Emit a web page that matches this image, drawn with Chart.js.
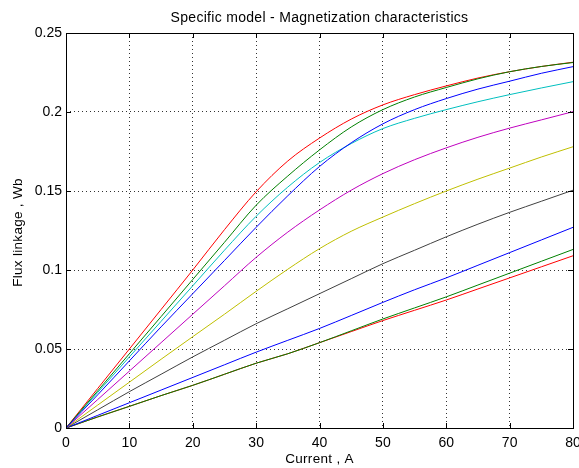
<!DOCTYPE html>
<html lang="en">
<head>
    <meta charset="UTF-8">
    <title>Specific model - Magnetization characteristics</title>
    <script src="https://cdn.jsdelivr.net/npm/chart.js"></script>
    <style>
        body {
            margin: 0;
            background-color: #ffffff;
        }
        .chart-box {
            width: 579px;
            height: 468px;
        }
    </style>
</head>
<body>
    <div class="chart-box">
        <canvas id="fluxChart"></canvas>
    </div>

    <script>
        // current, A
        const current = [0, 5, 10, 15, 20, 25, 30, 35, 40, 45, 50, 55, 60, 65, 70, 75, 80];

        // flux linkage, Wb (one curve per rotor position, matlab colour order)
        const curveBlue1 = [0, 0.021, 0.0425, 0.064, 0.085, 0.106, 0.127, 0.147, 0.1655, 0.1805, 0.1925, 0.2015, 0.2085, 0.2145, 0.2195, 0.2245, 0.2287];
        const curveGreen1 = [0, 0.0235, 0.047, 0.0705, 0.094, 0.1175, 0.141, 0.1595, 0.176, 0.1905, 0.2015, 0.2095, 0.2155, 0.221, 0.2255, 0.2288, 0.2313];
        const curveRed1 = [0, 0.025, 0.050, 0.075, 0.100, 0.1255, 0.1495, 0.169, 0.1835, 0.1955, 0.2045, 0.211, 0.2165, 0.2215, 0.2255, 0.2288, 0.2315];
        const curveCyan = [0, 0.0225, 0.045, 0.0675, 0.090, 0.1125, 0.134, 0.1525, 0.168, 0.180, 0.1895, 0.196, 0.2015, 0.2065, 0.211, 0.2152, 0.2192];
        const curveMagenta = [0, 0.018, 0.036, 0.054, 0.072, 0.090, 0.108, 0.124, 0.138, 0.1505, 0.161, 0.1698, 0.1773, 0.184, 0.1898, 0.195, 0.2002];
        const curveYellow = [0, 0.0145, 0.029, 0.0435, 0.0578, 0.072, 0.0865, 0.1005, 0.1135, 0.1245, 0.1335, 0.142, 0.150, 0.1575, 0.1645, 0.1715, 0.178];
        const curveBlack = [0, 0.0115, 0.023, 0.034, 0.045, 0.0555, 0.066, 0.0755, 0.085, 0.0945, 0.104, 0.1125, 0.121, 0.129, 0.1365, 0.1435, 0.1505];
        const curveBlue2 = [0, 0.008, 0.016, 0.024, 0.032, 0.040, 0.048, 0.0555, 0.063, 0.0712, 0.0795, 0.0875, 0.095, 0.103, 0.111, 0.119, 0.127];
        const curveGreen2 = [0, 0.007, 0.0137, 0.0205, 0.027, 0.034, 0.041, 0.047, 0.054, 0.0615, 0.069, 0.076, 0.083, 0.0905, 0.098, 0.1055, 0.113];
        const curveRed2 = [0, 0.007, 0.0137, 0.0205, 0.027, 0.034, 0.041, 0.047, 0.054, 0.061, 0.068, 0.0745, 0.081, 0.088, 0.095, 0.102, 0.109];

        const xTicks = [0, 10, 20, 30, 40, 50, 60, 70, 80];
        const yTicks = [0, 0.05, 0.1, 0.15, 0.2, 0.25];
        const yTickLabels = ['0', '0.05', '0.1', '0.15', '0.2', '0.25'];

        const curves = [curveBlue1, curveGreen1, curveRed1, curveCyan, curveMagenta, curveYellow, curveBlack, curveBlue2, curveGreen2, curveRed2];
        const colors = ['#0000ff', '#008000', '#ff0000', '#00bfbf', '#bf00bf', '#bfbf00', '#404040', '#0000ff', '#008000', '#ff0000'];

        const fontFamily = "'Liberation Sans', Arial, sans-serif";

        // box round the axes, inward tick marks, title and axis labels (matlab look)
        const matlabAxes = {
            id: 'matlabAxes',
            afterDraw(chart) {
                const { ctx, chartArea: a, scales } = chart;
                const len = 5;
                ctx.save();
                ctx.strokeStyle = '#000';
                ctx.lineWidth = 1;
                ctx.beginPath();
                xTicks.forEach(v => {
                    const x = Math.round(scales.x.getPixelForValue(v)) + 0.5;
                    ctx.moveTo(x, a.bottom); ctx.lineTo(x, a.bottom - len);
                    ctx.moveTo(x, a.top); ctx.lineTo(x, a.top + len);
                });
                yTicks.forEach(v => {
                    const y = Math.round(scales.y.getPixelForValue(v)) + 0.5;
                    ctx.moveTo(a.left, y); ctx.lineTo(a.left + len, y);
                    ctx.moveTo(a.right, y); ctx.lineTo(a.right - len, y);
                });
                ctx.stroke();
                ctx.strokeRect(Math.round(a.left) + 0.5, Math.round(a.top) + 0.5,
                    Math.round(a.right - a.left), Math.round(a.bottom - a.top));

                ctx.fillStyle = '#000';
                ctx.textAlign = 'center';
                ctx.textBaseline = 'middle';
                ctx.font = '14px ' + fontFamily;
                ctx.letterSpacing = '0.3px';
                ctx.fillText('Specific model - Magnetization characteristics', (a.left + a.right) / 2, 18);

                ctx.font = '13.5px ' + fontFamily;
                ctx.fillText('Current , A', (a.left + a.right) / 2, 459);

                ctx.translate(18, (a.top + a.bottom) / 2 + 2);
                ctx.rotate(-Math.PI / 2);
                ctx.fillText('Flux linkage , Wb', 0, 0);
                ctx.restore();
            }
        };

        const ctx = document.getElementById('fluxChart').getContext('2d');
        new Chart(ctx, {
            type: 'line',
            data: {
                datasets: curves.map((c, i) => ({
                    data: current.map((x, j) => ({ x: x, y: c[j] })),
                    borderColor: colors[i],
                    borderWidth: 1,
                    pointRadius: 0,
                    cubicInterpolationMode: 'monotone',
                    fill: false
                }))
            },
            options: {
                responsive: true,
                maintainAspectRatio: false,
                animation: false,
                layout: {
                    padding: { left: 0, right: 0, top: 33, bottom: 0 }
                },
                plugins: {
                    legend: { display: false },
                    tooltip: { enabled: false }
                },
                scales: {
                    x: {
                        type: 'linear',
                        min: 0,
                        max: 80,
                        afterBuildTicks: s => { s.ticks = xTicks.map(v => ({ value: v })); },
                        afterFit: s => { s.height = 40; s.paddingRight = 6; s.paddingLeft = 0; },
                        grid: { color: '#333', drawTicks: false },
                        border: { display: false, dash: [1, 3] },
                        ticks: {
                            padding: 7,
                            color: '#000',
                            font: { family: fontFamily, size: 14 }
                        }
                    },
                    y: {
                        min: 0,
                        max: 0.25,
                        afterBuildTicks: s => { s.ticks = yTicks.map(v => ({ value: v })); },
                        afterFit: s => { s.width = 66; s.paddingTop = 0; s.paddingBottom = 0; },
                        grid: { color: '#333', drawTicks: false },
                        border: { display: false, dash: [1, 3] },
                        ticks: {
                            padding: 4,
                            color: '#000',
                            font: { family: fontFamily, size: 14 },
                            callback: (v, i) => yTickLabels[i]
                        }
                    }
                }
            },
            plugins: [matlabAxes]
        });
    </script>
</body>
</html>
